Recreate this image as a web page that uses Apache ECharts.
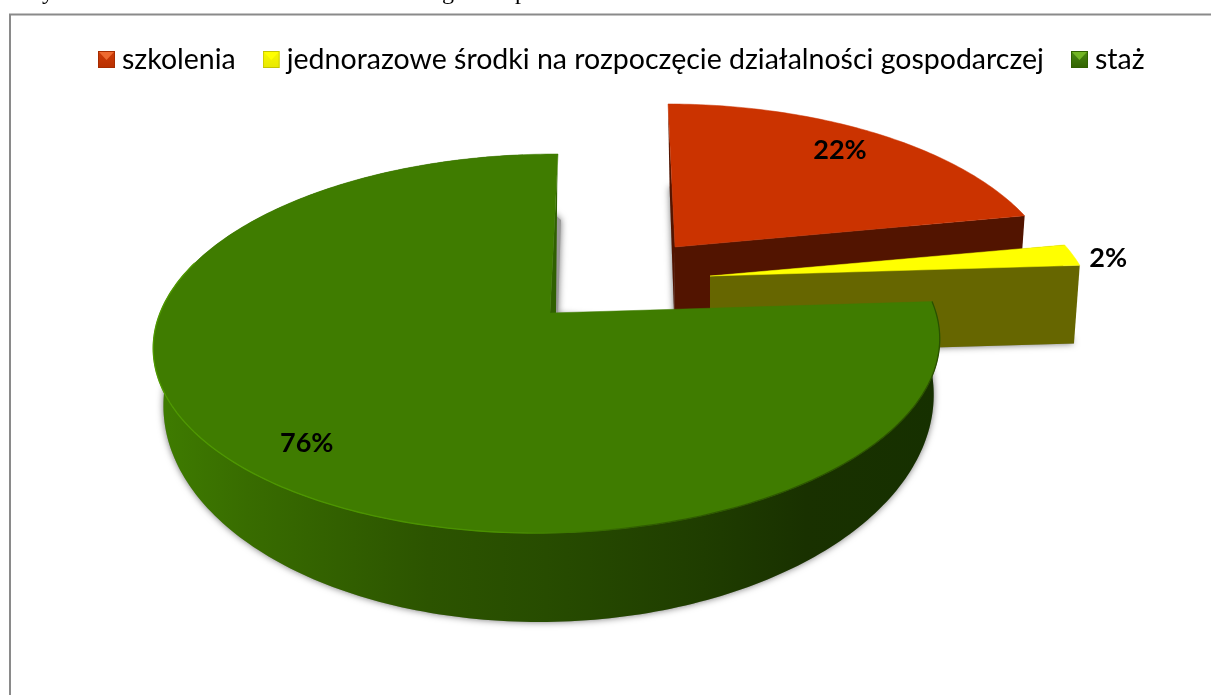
<!DOCTYPE html>
<html><head><meta charset="utf-8">
<style>html,body{margin:0;padding:0;background:#fff;overflow:hidden}#c{width:1211px;height:695px}</style>
<script src="https://cdn.jsdelivr.net/npm/echarts@6/dist/echarts.min.js"></script>
</head><body><div id="c"></div>
<script>
const categories = ['szkolenia', 'jednorazowe środki na rozpoczęcie działalności gospodarczej', 'staż'];
const values = [22, 2, 76];
const croppedHeading = ['y', 'g', 'p'];

const total = values.reduce((a, b) => a + b, 0);
const starts = values.map((_, i) => values.slice(0, i).reduce((a, b) => a + b, 0) / total * 360);

// Perspective planes of each exploded slice (top face, bottom face)
const planes = [
  { top: {cx:675,cy:247,R:374,H:174.5,S:-8.5,k:.22,m:.005}, base:{cx:674.5,cy:327,R:368,H:171,S:-6,k:.22,m:.005},
    face:'#cb3300', wall:'#521400', labelR:.8, labelDx:2, labelDy:-2 },
  { top: {cx:710,cy:276,R:383,H:176,S:0,k:.22,m:.02}, base:{cx:710,cy:354,R:377,H:172,S:0,k:.22,m:.02},
    face:'#ffff00', wall:'#666600', labelR:1.1, labelDx:1, labelDy:5 },
  { top: {cx:550,cy:313,R:388,H:184.6,S:9.3,k:.161,m:.005}, base:{cx:552,cy:364.5,R:380,H:216,S:9,k:.161,m:.005},
    face:'#3f7c00', wall:'#2f6000', labelR:.83, labelDx:8, labelDy:6 }
];
function proj(pl, deg, r) {
  const a = deg * Math.PI / 180, p = r * Math.sin(a), q = r * Math.cos(a);
  const w = 1 + pl.k * q + pl.m * p;
  return [pl.cx + (pl.R * p + pl.S * q) / w, pl.cy - pl.H * q / w];
}
function arc(pl, a0, a1) {
  const n = Math.max(2, Math.round(Math.abs(a1 - a0))), pts = [];
  for (let i = 0; i <= n; i++) pts.push(proj(pl, a0 + (a1 - a0) * i / n, 1));
  return pts;
}
function poly(points, style, z2) { return { type:'polygon', shape:{points}, style, z2:z2||0, silent:true }; }

const wallGradient = { type:'linear', x:0, y:0, x2:1, y2:0, colorStops:[
  {offset:0,color:'#3f7d00'},{offset:.12,color:'#386c00'},{offset:.35,color:'#2c5400'},
  {offset:.5,color:'#274c00'},{offset:.7,color:'#1f3d00'},{offset:.83,color:'#193100'},{offset:1,color:'#163000'}]};
const rimGradient = { type:'linear', x:0, y:0, x2:1, y2:0, colorStops:[
  {offset:0,color:'#4f9a00'},{offset:.45,color:'#4a9000'},{offset:.62,color:'#2f5c00'},{offset:1,color:'#2a5000'}]};

function renderSlice(params, api) {
  const i = params.seriesIndex, v = api.value(0), pl = planes[i];
  const a0 = starts[i], a1 = a0 + v / total * 360;
  const T = pl.top, B = pl.base, kids = [];
  const topArc = arc(T, a0, a1), baseArc = arc(B, a0, a1);
  const shadow = { fill:'#999', shadowBlur:7, shadowColor:'rgba(0,0,0,.55)', shadowOffsetX:0, shadowOffsetY:0 };
  if (i === 2) {
    const cut = proj(B, a1, .75);
    kids.push(poly(arc(B, a0, a1 - 8).concat([[cut[0] + 3, cut[1]], [T.cx + 8, T.cy], [T.cx, T.cy]]), shadow));
  } else {
    kids.push(poly([[B.cx, B.cy]].concat(baseArc), shadow));
  }
  if (i < 2) {
    // visible radial cut faces
    kids.push(poly([topArc[0],[T.cx,T.cy],[B.cx,B.cy],baseArc[0]], {fill:pl.wall}));
    kids.push(poly([[T.cx,T.cy],topArc[topArc.length-1],baseArc[baseArc.length-1],[B.cx,B.cy]], {fill:pl.wall}));
  } else {
    kids.push(poly(arc(T, a0, a1 - 6).concat(arc(B, a0, a1 - 6).reverse()), {fill:wallGradient}));
    kids.push(poly([topArc[topArc.length-1],[T.cx,T.cy],[T.cx+6,T.cy],proj(T,a1,.92)], {fill:pl.wall}));
  }
  kids.push(poly([[T.cx,T.cy]].concat(topArc), {fill:pl.face, stroke:pl.face, lineWidth:.5}));
  if (i === 2) {
    const near = arc(T, a0, a0 + 200);
    kids.push({type:'polyline', shape:{points:near}, silent:true, style:{fill:null, stroke:rimGradient, lineWidth:1.3}});
  }
  const lab = proj(T, (a0 + a1) / 2, pl.labelR);
  kids.push({type:'text', silent:true, style:{text:v + '%', x:lab[0] + pl.labelDx, y:lab[1] + pl.labelDy, align:'center', verticalAlign:'middle',
    font:'bold 27px Lato', fill:'#000'}});
  return {type:'group', children:kids};
}

const bevel = (hi, top, bottom, edge) => 'image://data:image/svg+xml;utf8,' + encodeURIComponent(
  `<svg xmlns="http://www.w3.org/2000/svg" width="17" height="17"><defs><linearGradient id="g" x1="0" y1="0" x2="0" y2="1">`+
  `<stop offset="0" stop-color="${top}"/><stop offset="1" stop-color="${bottom}"/></linearGradient></defs>`+
  `<rect width="17" height="17" fill="url(#g)"/><polygon points="1,1 16,1 8.5,9" fill="${hi}"/>`+
  `<rect x=".5" y=".5" width="16" height="16" fill="none" stroke="${edge}"/></svg>`);
const icons = [bevel('#ee6a30','#cf3c08','#b83000','#a62c00'), bevel('#ffff00','#f8f800','#e8e800','#c4c400'), bevel('#72b524','#4a8a14','#316200','#2f6000')];

const chart = echarts.init(document.getElementById('c'), null, {renderer:'canvas'});
chart.setOption({
  animation:false,
  backgroundColor:'#fff',
  legend:{ left:93, top:40, itemWidth:17, itemHeight:17, itemGap:27, selectedMode:false,
    textStyle:{ fontFamily:'Lato', fontSize:28.5, color:'#000', padding:[0,0,0,2] },
    data:categories.map((name,i)=>({name, icon:icons[i]})) },
  graphic:[
    {type:'rect', shape:{x:10,y:14.5,width:1300,height:800}, style:{fill:'none',stroke:'#8a8a8a',lineWidth:2}, silent:true, z:-1},
    ...croppedHeading.map((t,i)=>({type:'text', silent:true, x:[42,442,515][i], y:-19,
      style:{text:t, font:'24px "Liberation Serif"', fill:'#000'}}))
  ],
  series:categories.map((name,i)=>({ type:'custom', name, coordinateSystem:'none', silent:true,
    itemStyle:{color:planes[i].face}, z:i+2, renderItem:renderSlice, data:[[values[i]]] }))
});
</script></body></html>
